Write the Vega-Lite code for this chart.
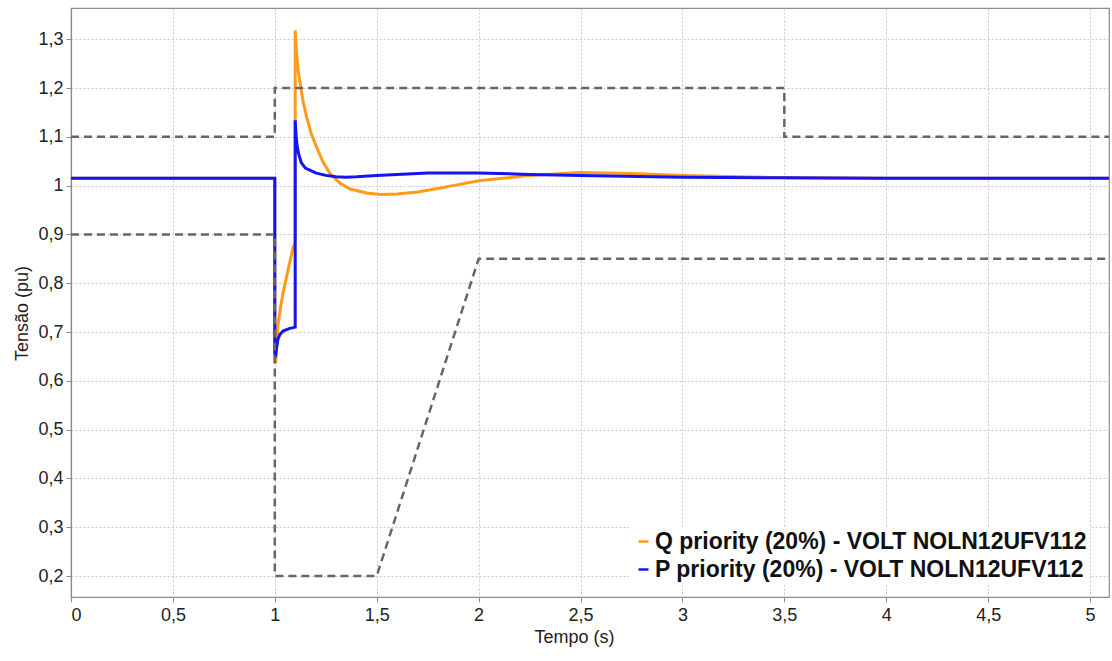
{
  "$schema": "https://vega.github.io/schema/vega-lite/v6.json",
  "width": 1038,
  "height": 589,
  "autosize": {"type": "none"},
  "padding": {"left": 71, "top": 8, "right": 3, "bottom": 64},
  "background": "white",
  "config": {
    "view": {"stroke": "#8c8c8c", "strokeWidth": 1.2},
    "font": "Liberation Sans",
    "axis": {
      "labelFont": "Liberation Sans",
      "titleFont": "Liberation Sans",
      "labelFontSize": 18,
      "titleFontSize": 18,
      "labelColor": "#222",
      "titleColor": "#222",
      "titleFontWeight": "normal",
      "domainColor": "#8c8c8c",
      "domainWidth": 1.2,
      "tickColor": "#8c8c8c",
      "tickSize": 5,
      "gridColor": "#c8c8c8",
      "gridDash": [2, 2],
      "gridWidth": 1
    }
  },
  "datasets": {
    "lim": [
      {"s": "U", "t": 0, "v": 1.1, "o": 1},
      {"s": "U", "t": 1, "v": 1.1, "o": 2},
      {"s": "U", "t": 1, "v": 1.2, "o": 3},
      {"s": "U", "t": 3.5, "v": 1.2, "o": 4},
      {"s": "U", "t": 3.5, "v": 1.1, "o": 5},
      {"s": "U", "t": 5.093, "v": 1.1, "o": 6},
      {"s": "L", "t": 0, "v": 0.9, "o": 1},
      {"s": "L", "t": 1, "v": 0.9, "o": 2},
      {"s": "L", "t": 1, "v": 0.2, "o": 3},
      {"s": "L", "t": 1.5, "v": 0.2, "o": 4},
      {"s": "L", "t": 2, "v": 0.85, "o": 5},
      {"s": "L", "t": 5.093, "v": 0.85, "o": 6}
    ],
    "curves": [
      {"s": "Q priority (20%) - VOLT NOLN12UFV112", "t": 0, "v": 1.015, "o": 1},
      {"s": "Q priority (20%) - VOLT NOLN12UFV112", "t": 1.0, "v": 1.015, "o": 2},
      {"s": "Q priority (20%) - VOLT NOLN12UFV112", "t": 1.0, "v": 0.64, "o": 3},
      {"s": "Q priority (20%) - VOLT NOLN12UFV112", "t": 1.004, "v": 0.636, "o": 4},
      {"s": "Q priority (20%) - VOLT NOLN12UFV112", "t": 1.01, "v": 0.68, "o": 5},
      {"s": "Q priority (20%) - VOLT NOLN12UFV112", "t": 1.016, "v": 0.715, "o": 6},
      {"s": "Q priority (20%) - VOLT NOLN12UFV112", "t": 1.028, "v": 0.75, "o": 7},
      {"s": "Q priority (20%) - VOLT NOLN12UFV112", "t": 1.04, "v": 0.78, "o": 8},
      {"s": "Q priority (20%) - VOLT NOLN12UFV112", "t": 1.065, "v": 0.827, "o": 9},
      {"s": "Q priority (20%) - VOLT NOLN12UFV112", "t": 1.089, "v": 0.872, "o": 10},
      {"s": "Q priority (20%) - VOLT NOLN12UFV112", "t": 1.1, "v": 0.885, "o": 11},
      {"s": "Q priority (20%) - VOLT NOLN12UFV112", "t": 1.1, "v": 1.318, "o": 12},
      {"s": "Q priority (20%) - VOLT NOLN12UFV112", "t": 1.107, "v": 1.27, "o": 13},
      {"s": "Q priority (20%) - VOLT NOLN12UFV112", "t": 1.115, "v": 1.235, "o": 14},
      {"s": "Q priority (20%) - VOLT NOLN12UFV112", "t": 1.124, "v": 1.21, "o": 15},
      {"s": "Q priority (20%) - VOLT NOLN12UFV112", "t": 1.14, "v": 1.17, "o": 16},
      {"s": "Q priority (20%) - VOLT NOLN12UFV112", "t": 1.156, "v": 1.141, "o": 17},
      {"s": "Q priority (20%) - VOLT NOLN12UFV112", "t": 1.18, "v": 1.105, "o": 18},
      {"s": "Q priority (20%) - VOLT NOLN12UFV112", "t": 1.205, "v": 1.079, "o": 19},
      {"s": "Q priority (20%) - VOLT NOLN12UFV112", "t": 1.235, "v": 1.05, "o": 20},
      {"s": "Q priority (20%) - VOLT NOLN12UFV112", "t": 1.27, "v": 1.025, "o": 21},
      {"s": "Q priority (20%) - VOLT NOLN12UFV112", "t": 1.32, "v": 1.005, "o": 22},
      {"s": "Q priority (20%) - VOLT NOLN12UFV112", "t": 1.37, "v": 0.993, "o": 23},
      {"s": "Q priority (20%) - VOLT NOLN12UFV112", "t": 1.45, "v": 0.985, "o": 24},
      {"s": "Q priority (20%) - VOLT NOLN12UFV112", "t": 1.52, "v": 0.982, "o": 25},
      {"s": "Q priority (20%) - VOLT NOLN12UFV112", "t": 1.6, "v": 0.983, "o": 26},
      {"s": "Q priority (20%) - VOLT NOLN12UFV112", "t": 1.7, "v": 0.987, "o": 27},
      {"s": "Q priority (20%) - VOLT NOLN12UFV112", "t": 1.8, "v": 0.994, "o": 28},
      {"s": "Q priority (20%) - VOLT NOLN12UFV112", "t": 1.9, "v": 1.002, "o": 29},
      {"s": "Q priority (20%) - VOLT NOLN12UFV112", "t": 2.0, "v": 1.01, "o": 30},
      {"s": "Q priority (20%) - VOLT NOLN12UFV112", "t": 2.25, "v": 1.021, "o": 31},
      {"s": "Q priority (20%) - VOLT NOLN12UFV112", "t": 2.5, "v": 1.027, "o": 32},
      {"s": "Q priority (20%) - VOLT NOLN12UFV112", "t": 2.75, "v": 1.025, "o": 33},
      {"s": "Q priority (20%) - VOLT NOLN12UFV112", "t": 3.0, "v": 1.021, "o": 34},
      {"s": "Q priority (20%) - VOLT NOLN12UFV112", "t": 3.5, "v": 1.016, "o": 35},
      {"s": "Q priority (20%) - VOLT NOLN12UFV112", "t": 4.0, "v": 1.015, "o": 36},
      {"s": "Q priority (20%) - VOLT NOLN12UFV112", "t": 5.093, "v": 1.015, "o": 37},
      {"s": "P priority (20%) - VOLT NOLN12UFV112", "t": 0, "v": 1.015, "o": 1},
      {"s": "P priority (20%) - VOLT NOLN12UFV112", "t": 1.0, "v": 1.015, "o": 2},
      {"s": "P priority (20%) - VOLT NOLN12UFV112", "t": 1.0, "v": 0.66, "o": 3},
      {"s": "P priority (20%) - VOLT NOLN12UFV112", "t": 1.003, "v": 0.648, "o": 4},
      {"s": "P priority (20%) - VOLT NOLN12UFV112", "t": 1.008, "v": 0.665, "o": 5},
      {"s": "P priority (20%) - VOLT NOLN12UFV112", "t": 1.015, "v": 0.685, "o": 6},
      {"s": "P priority (20%) - VOLT NOLN12UFV112", "t": 1.025, "v": 0.695, "o": 7},
      {"s": "P priority (20%) - VOLT NOLN12UFV112", "t": 1.04, "v": 0.702, "o": 8},
      {"s": "P priority (20%) - VOLT NOLN12UFV112", "t": 1.07, "v": 0.707, "o": 9},
      {"s": "P priority (20%) - VOLT NOLN12UFV112", "t": 1.1, "v": 0.71, "o": 10},
      {"s": "P priority (20%) - VOLT NOLN12UFV112", "t": 1.1, "v": 1.134, "o": 11},
      {"s": "P priority (20%) - VOLT NOLN12UFV112", "t": 1.105, "v": 1.1, "o": 12},
      {"s": "P priority (20%) - VOLT NOLN12UFV112", "t": 1.11, "v": 1.08, "o": 13},
      {"s": "P priority (20%) - VOLT NOLN12UFV112", "t": 1.117, "v": 1.065, "o": 14},
      {"s": "P priority (20%) - VOLT NOLN12UFV112", "t": 1.13, "v": 1.047, "o": 15},
      {"s": "P priority (20%) - VOLT NOLN12UFV112", "t": 1.15, "v": 1.036, "o": 16},
      {"s": "P priority (20%) - VOLT NOLN12UFV112", "t": 1.2, "v": 1.026, "o": 17},
      {"s": "P priority (20%) - VOLT NOLN12UFV112", "t": 1.25, "v": 1.021, "o": 18},
      {"s": "P priority (20%) - VOLT NOLN12UFV112", "t": 1.3, "v": 1.018, "o": 19},
      {"s": "P priority (20%) - VOLT NOLN12UFV112", "t": 1.35, "v": 1.017, "o": 20},
      {"s": "P priority (20%) - VOLT NOLN12UFV112", "t": 1.4, "v": 1.018, "o": 21},
      {"s": "P priority (20%) - VOLT NOLN12UFV112", "t": 1.5, "v": 1.021, "o": 22},
      {"s": "P priority (20%) - VOLT NOLN12UFV112", "t": 1.75, "v": 1.026, "o": 23},
      {"s": "P priority (20%) - VOLT NOLN12UFV112", "t": 2.0, "v": 1.026, "o": 24},
      {"s": "P priority (20%) - VOLT NOLN12UFV112", "t": 2.25, "v": 1.023, "o": 25},
      {"s": "P priority (20%) - VOLT NOLN12UFV112", "t": 2.5, "v": 1.021, "o": 26},
      {"s": "P priority (20%) - VOLT NOLN12UFV112", "t": 3.0, "v": 1.017, "o": 27},
      {"s": "P priority (20%) - VOLT NOLN12UFV112", "t": 3.5, "v": 1.016, "o": 28},
      {"s": "P priority (20%) - VOLT NOLN12UFV112", "t": 4.0, "v": 1.015, "o": 29},
      {"s": "P priority (20%) - VOLT NOLN12UFV112", "t": 5.093, "v": 1.015, "o": 30}
    ]
  },
  "encoding": {
    "x": {
      "field": "t", "type": "quantitative",
      "scale": {"domain": [0, 5.093], "nice": false, "zero": false},
      "axis": {
        "title": "Tempo (s)",
        "values": [0, 0.5, 1, 1.5, 2, 2.5, 3, 3.5, 4, 4.5, 5],
        "labelExpr": "replace(toString(datum.value), '.', ',')",
        "labelPadding": 4,
        "titlePadding": 4,
        "titleX": 503
      }
    },
    "y": {
      "field": "v", "type": "quantitative",
      "scale": {"domain": [0.157, 1.364], "nice": false, "zero": false},
      "axis": {
        "title": "Tensão (pu)",
        "values": [0.2, 0.3, 0.4, 0.5, 0.6, 0.7, 0.8, 0.9, 1, 1.1, 1.2, 1.3],
        "labelExpr": "replace(toString(datum.value), '.', ',')",
        "labelPadding": 3,
        "titlePadding": 6,
        "titleY": 305
      }
    },
    "order": {"field": "o", "type": "quantitative"}
  },
  "layer": [
    {
      "data": {"name": "curves"},
      "mark": {"type": "line", "strokeWidth": 3, "clip": true},
      "encoding": {
        "color": {
          "field": "s", "type": "nominal",
          "scale": {
            "domain": ["Q priority (20%) - VOLT NOLN12UFV112", "P priority (20%) - VOLT NOLN12UFV112"],
            "range": ["#FF9A1A", "#1414F0"]
          },
          "legend": {
            "title": null,
            "orient": "none",
            "legendX": 558,
            "legendY": 519,
            "fillColor": "white",
            "padding": 3,
            "symbolType": "stroke",
            "symbolSize": 100,
            "symbolStrokeWidth": 2.5,
            "labelFont": "Liberation Sans",
            "labelFontSize": 23,
            "labelFontWeight": "bold",
            "labelColor": "#111",
            "labelLimit": 800,
            "labelOffset": 0,
            "rowPadding": 4
          }
        }
      }
    },
    {
      "data": {"name": "lim"},
      "mark": {"type": "line", "strokeWidth": 2.5, "color": "#666666", "strokeDash": [8, 5], "clip": true},
      "encoding": {"detail": {"field": "s"}}
    }
  ]
}
